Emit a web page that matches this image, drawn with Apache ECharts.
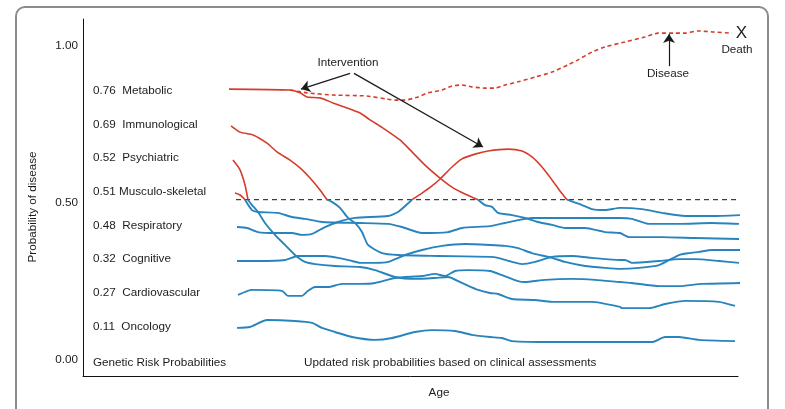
<!DOCTYPE html>
<html>
<head>
<meta charset="utf-8">
<script src="https://cdn.jsdelivr.net/npm/echarts@6/dist/echarts.min.js"></script>
<style>
html,body{margin:0;padding:0;background:#fff;}
#chart{width:785px;height:409px;}
</style>
</head>
<body>
<div id="chart"></div>
<script>
// ---------- DATA ----------
const yTickValues = [0, 0.5, 1];
const geneticLabels = [
  "0.76  Metabolic", "0.69  Immunological", "0.52  Psychiatric", "0.51 Musculo-skeletal",
  "0.48  Respiratory", "0.32  Cognitive", "0.27  Cardiovascular", "0.11  Oncology"
];
const bottomLeftText = "Genetic Risk Probabilities";
const bottomMidText = "Updated risk probabilities based on clinical assessments";
const threshold = 0.51;
const thresholdRange = [30.6, 131.4];

// Metabolic: genetic-risk path above threshold (red), then below (blue)
const metabolicRed = [[29.2,0.862],[41.4,0.859],[43.4,0.850],[44.8,0.837],[47.4,0.834],[50.0,0.818],[52.8,0.802],[55.4,0.786],[57.4,0.764],[60.0,0.738],[63.4,0.700],[65.8,0.662],[68.4,0.620],[71.4,0.579],[73.8,0.550],[76.4,0.528],[79.0,0.510]];
const metabolicBlue = [[79.0,0.510],[80.4,0.493],[81.8,0.487],[83.0,0.468],[85.8,0.461],[88.4,0.452],[91.0,0.439],[93.8,0.430],[96.4,0.420],[100.4,0.420],[104.4,0.407],[107.4,0.404],[109.2,0.391],[115.8,0.391],[122.4,0.388],[131.2,0.385]];
// Untreated disease trajectory (dashed)
const diseasePath = [[41.4,0.859],[44.8,0.850],[50.0,0.843],[56.8,0.840],[60.8,0.830],[62.4,0.827],[64.4,0.827],[67.0,0.837],[69.0,0.850],[71.8,0.859],[73.8,0.872],[75.8,0.875],[77.8,0.869],[80.4,0.865],[82.4,0.865],[84.4,0.875],[87.0,0.885],[90.4,0.900],[93.8,0.916],[97.0,0.939],[99.0,0.955],[101.8,0.980],[104.4,0.996],[108.4,1.012],[112.4,1.028],[115.0,1.040],[118.4,1.040],[120.4,1.040],[123.0,1.047],[125.8,1.044],[129.8,1.040]];
// Immunological
const immunoRed = [[29.6,0.745],[31.4,0.725],[34.0,0.716],[36.8,0.690],[38.8,0.662],[41.4,0.636],[43.4,0.611],[45.4,0.579],[47.4,0.541],[48.8,0.510]];
const immunoBlue = [[48.8,0.510],[49.8,0.503],[51.4,0.484],[53.0,0.452],[54.4,0.436],[55.8,0.407],[57.0,0.366],[59.8,0.340],[63.0,0.334],[71.0,0.331],[81.4,0.328],[83.0,0.325],[85.8,0.312],[87.8,0.305],[90.4,0.312],[93.8,0.328],[97.8,0.331],[101.8,0.325],[107.4,0.318],[108.4,0.318],[109.8,0.309],[115.2,0.315],[119.2,0.321],[122.4,0.321],[127.2,0.315],[131.2,0.309]];
// Psychiatric
const psychRed = [[30.0,0.636],[31.4,0.605],[32.4,0.557],[33.0,0.510]];
const psychBlue = [[33.0,0.510],[33.8,0.493],[35.0,0.471],[36.4,0.436],[38.4,0.398],[40.4,0.366],[42.4,0.334],[44.4,0.312],[46.4,0.305],[50.4,0.299],[55.4,0.296],[58.4,0.286],[62.4,0.264],[66.4,0.258],[70.4,0.261],[73.0,0.264],[75.8,0.245],[79.0,0.223],[81.4,0.213],[83.0,0.210],[85.8,0.194],[90.4,0.191],[93.8,0.185],[97.8,0.185],[101.8,0.185],[107.4,0.169],[107.8,0.165],[113.2,0.165],[116.4,0.178],[120.4,0.188],[127.2,0.185],[130.4,0.172]];
// Musculo-skeletal
const muscRed = [[30.4,0.531],[31.4,0.525],[32.4,0.510]];
const muscBlue = [[32.4,0.510],[33.8,0.477],[35.0,0.471],[39.0,0.468],[41.8,0.455],[44.4,0.449],[47.8,0.439],[55.4,0.436],[61.0,0.433],[63.8,0.423],[67.8,0.404],[73.0,0.407],[75.8,0.420],[81.4,0.426],[84.4,0.436],[87.0,0.445],[89.8,0.452],[93.8,0.452],[100.4,0.452],[107.4,0.452],[109.8,0.449],[113.2,0.433],[119.2,0.433],[125.8,0.436],[131.2,0.433]];
// Respiratory (rises, intervention brings it back)
const respBlueA = [[30.8,0.423],[32.8,0.420],[35.0,0.407],[38.4,0.404],[41.8,0.404],[43.8,0.398],[45.8,0.401],[48.4,0.423],[51.0,0.439],[54.4,0.452],[61.0,0.458],[63.0,0.471],[65.8,0.510]];
const respRed = [[65.8,0.510],[67.8,0.531],[69.8,0.554],[71.4,0.576],[73.8,0.614],[75.8,0.640],[78.4,0.655],[81.0,0.665],[85.0,0.671],[87.8,0.665],[89.8,0.646],[91.8,0.614],[93.8,0.573],[95.4,0.538],[96.8,0.510]];
const respBlueB = [[96.8,0.510],[99.8,0.493],[101.8,0.480],[104.4,0.477],[107.4,0.484],[111.8,0.480],[115.8,0.468],[120.4,0.458],[125.8,0.458],[131.4,0.461]];
// Cognitive
const cognitive = [[30.8,0.315],[35.0,0.315],[40.4,0.318],[43.0,0.331],[45.8,0.331],[48.4,0.331],[51.0,0.325],[53.8,0.315],[55.4,0.309],[58.4,0.309],[61.0,0.312],[64.4,0.334],[67.8,0.350],[71.8,0.363],[76.4,0.369],[81.4,0.366],[84.4,0.363],[87.0,0.356],[89.8,0.340],[93.8,0.325],[96.4,0.312],[100.4,0.299],[104.4,0.293],[107.4,0.290],[111.2,0.293],[115.2,0.302],[119.2,0.334],[121.2,0.340],[123.2,0.344],[125.8,0.350],[131.4,0.350]];
// Cardiovascular
const cardio = [[31.0,0.207],[33.8,0.223],[39.8,0.220],[41.0,0.204],[43.8,0.204],[45.0,0.220],[46.4,0.232],[49.0,0.232],[51.8,0.242],[55.4,0.242],[58.4,0.245],[62.4,0.261],[67.8,0.267],[70.4,0.274],[72.4,0.267],[74.4,0.283],[77.0,0.286],[81.4,0.283],[83.8,0.270],[87.0,0.251],[88.4,0.248],[92.4,0.255],[97.8,0.258],[102.4,0.255],[107.4,0.248],[109.8,0.245],[115.2,0.235],[119.2,0.235],[123.8,0.242],[131.4,0.245]];
// Oncology
const oncology = [[30.8,0.102],[33.4,0.105],[36.8,0.127],[42.4,0.124],[45.8,0.118],[47.8,0.102],[50.4,0.089],[53.8,0.073],[58.4,0.064],[61.8,0.070],[66.4,0.089],[69.8,0.095],[74.4,0.092],[77.8,0.080],[81.4,0.073],[83.8,0.070],[85.8,0.060],[93.8,0.057],[107.4,0.057],[113.8,0.057],[116.4,0.073],[119.2,0.073],[123.2,0.064],[130.4,0.060]];
// Annotation arrows [start, end] in data units
const interventionArrows = [[[53.4,0.912],[43.6,0.862]], [[54.2,0.912],[80.0,0.678]]];
const diseaseArrow = [[117.2,0.935],[117.2,1.037]];

// ---------- STYLE ----------
const RED = '#d63c2c';
const BLUE = '#2884bc';
const TXT = '#1f1b1c';
const FONT = '"Liberation Sans", Arial, sans-serif';
const FS = '11.7px ';

const chart = echarts.init(document.getElementById('chart'), null, {renderer: 'canvas'});

function lineSeries(name, data, color, width, type) {
  return {
    name, type: 'line', data, showSymbol: false, smooth: 0.2, silent: true,
    lineStyle: {color, width, type: type || 'solid'}, z: color === RED ? 4 : 3
  };
}

const series = [
  lineSeries('Metabolic', metabolicRed, RED, 1.6),
  lineSeries('Metabolic-b', metabolicBlue, BLUE, 1.9),
  lineSeries('Immunological', immunoRed, RED, 1.6),
  lineSeries('Immunological-b', immunoBlue, BLUE, 1.9),
  lineSeries('Psychiatric', psychRed, RED, 1.6),
  lineSeries('Psychiatric-b', psychBlue, BLUE, 1.9),
  lineSeries('Musculo', muscRed, RED, 1.6),
  lineSeries('Musculo-b', muscBlue, BLUE, 1.9),
  lineSeries('Respiratory', respBlueA, BLUE, 1.9),
  lineSeries('Respiratory-r', respRed, RED, 1.6),
  lineSeries('Respiratory-b', respBlueB, BLUE, 1.9),
  lineSeries('Cognitive', cognitive, BLUE, 1.9),
  lineSeries('Cardiovascular', cardio, BLUE, 1.9),
  lineSeries('Oncology', oncology, BLUE, 1.9),
  lineSeries('Disease', diseasePath, RED, 1.6, [4, 3]),
  {
    name: 'Threshold', type: 'line', silent: true, showSymbol: false,
    data: thresholdRange.map(x => [x, threshold]),
    lineStyle: {color: '#111', width: 1, type: [5, 4]}, z: 2,
    markLine: {
      silent: true, symbol: ['none', 'arrow'], symbolSize: 9, label: {show: false},
      lineStyle: {color: '#1a1a1a', width: 1.2, type: 'solid'},
      data: interventionArrows.concat([diseaseArrow]).map(a => [{coord: a[0]}, {coord: a[1]}])
    }
  }
];

const labelTop = 90.7, labelStep = 33.7;
const graphics = [
  {type: 'rect', shape: {x: 16, y: 7, width: 752, height: 430, r: 9},
   style: {fill: 'none', stroke: '#8c8c8c', lineWidth: 2}, silent: true},
  {type: 'text', x: 33, y: 207, rotation: Math.PI / 2,
   style: {text: 'Probability of disease', font: FS + FONT, fill: TXT, align: 'center', verticalAlign: 'middle'}},
  {type: 'text', x: 439, y: 393,
   style: {text: 'Age', font: FS + FONT, fill: TXT, align: 'center', verticalAlign: 'middle'}},
  {type: 'text', x: 93, y: 362.7,
   style: {text: bottomLeftText, font: FS + FONT, fill: TXT, align: 'left', verticalAlign: 'middle'}},
  {type: 'text', x: 304, y: 362.7,
   style: {text: bottomMidText, font: FS + FONT, fill: TXT, align: 'left', verticalAlign: 'middle'}},
  {type: 'text', x: 348, y: 63,
   style: {text: 'Intervention', font: FS + FONT, fill: TXT, align: 'center', verticalAlign: 'middle'}},
  {type: 'text', x: 668, y: 74,
   style: {text: 'Disease', font: FS + FONT, fill: TXT, align: 'center', verticalAlign: 'middle'}},
  {type: 'text', x: 737, y: 50,
   style: {text: 'Death', font: FS + FONT, fill: TXT, align: 'center', verticalAlign: 'middle'}},
  {type: 'text', x: 741.5, y: 33,
   style: {text: 'X', font: '17px ' + FONT, fill: TXT, align: 'center', verticalAlign: 'middle'}}
].concat(geneticLabels.map((t, i) => ({
  type: 'text', x: 93, y: labelTop + i * labelStep,
  style: {text: t, font: FS + FONT, fill: TXT, align: 'left', verticalAlign: 'middle'}
})));

chart.setOption({
  animation: false,
  backgroundColor: '#ffffff',
  grid: {left: 83, right: 47, top: 19, bottom: 33, containLabel: false},
  xAxis: {
    type: 'value', min: 0, max: 131,
    axisLine: {show: true, onZero: false, lineStyle: {color: '#111', width: 1}},
    axisTick: {show: false}, axisLabel: {show: false}, splitLine: {show: false}
  },
  yAxis: {
    type: 'value', min: -0.051, max: 1.085,
    axisLine: {show: true, onZero: false, lineStyle: {color: '#111', width: 1}},
    axisTick: {show: false}, splitLine: {show: false},
    axisLabel: {
      customValues: yTickValues, margin: 5, color: TXT,
      fontFamily: '"Liberation Sans", Arial, sans-serif', fontSize: 11.7,
      formatter: v => v.toFixed(2)
    }
  },
  series,
  graphic: graphics
});
</script>
</body>
</html>
